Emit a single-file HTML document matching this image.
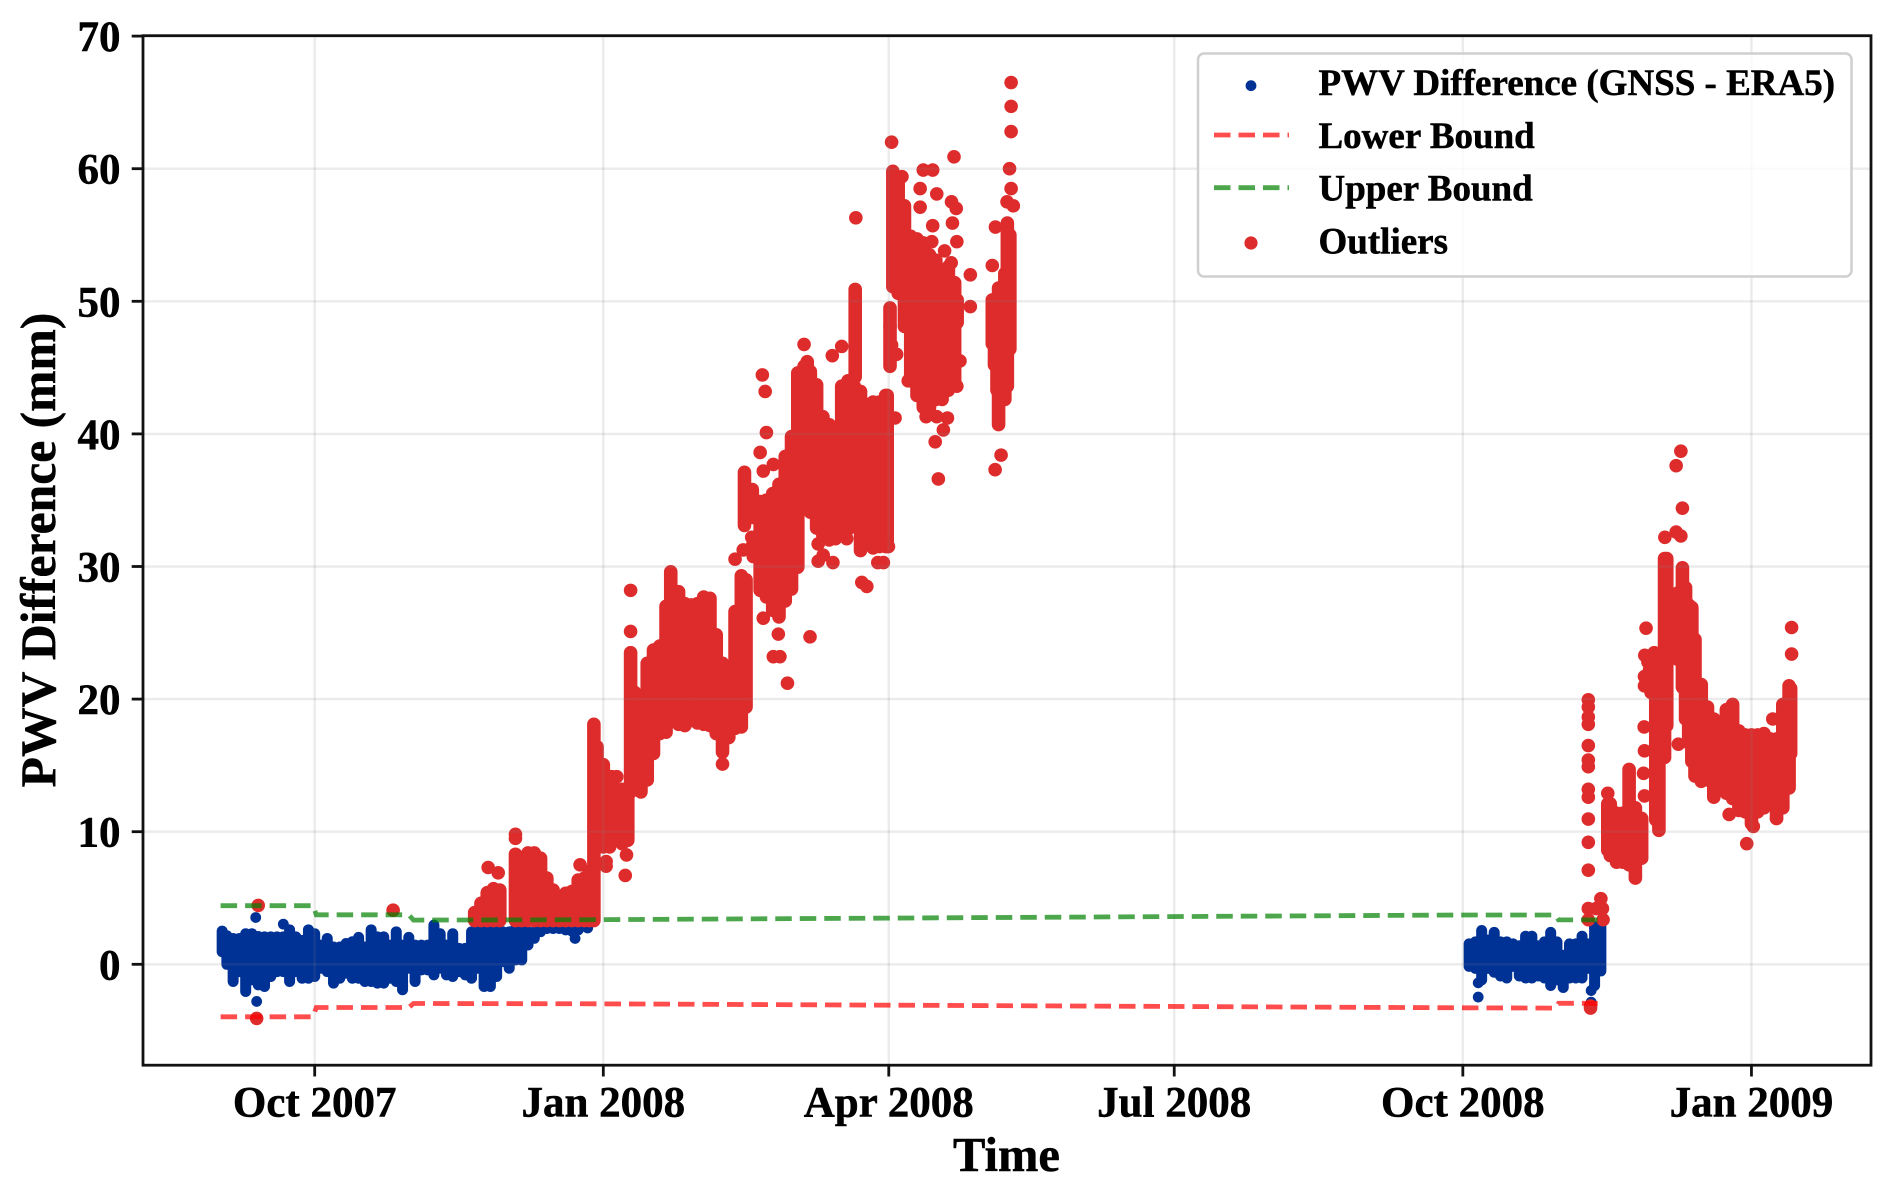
<!DOCTYPE html>
<html lang="en">
<head>
<meta charset="utf-8">
<title>PWV Difference (GNSS - ERA5)</title>
<style>
html,body{margin:0;padding:0;background:#fff;}
svg{display:block;}
text{font-family:"Liberation Serif",serif;font-weight:bold;fill:#000;stroke:#000;stroke-width:0.5px;}
</style>
</head>
<body>
<svg id="chart" xmlns="http://www.w3.org/2000/svg" width="1892" height="1191" viewBox="0 0 1892 1191">
  <rect x="0" y="0" width="1892" height="1191" fill="#fff"/>
  <g id="blue-layer"></g>
  <g id="red-layer"></g>
  <g id="grid-layer"></g>
  <g id="bound-layer"></g>
  <rect x="143" y="35.7" width="1728" height="1029.5" fill="none" stroke="#111" stroke-width="2.8"/>
  <g id="tick-layer"></g>
  <text x="1006.5" y="1171" font-size="48.5" text-anchor="middle">Time</text>
  <text transform="translate(55,550) rotate(-90)" font-size="49.6" text-anchor="middle">PWV Difference (mm)</text>
  <g>
    <rect x="1198" y="53.5" width="653.5" height="223" rx="6" ry="6" fill="#fff" fill-opacity="0.8" stroke="#cfcfcf" stroke-width="2.5"/>
    <circle cx="1251" cy="85.7" r="5.4" fill="#003296"/>
    <text x="1318.5" y="95" font-size="37">PWV Difference (GNSS - ERA5)</text>
    <line x1="1214" y1="135" x2="1289" y2="135" stroke="#ff0000" stroke-opacity="0.7" stroke-width="4.8" stroke-dasharray="16.5 8"/>
    <text x="1318.5" y="148" font-size="37">Lower Bound</text>
    <line x1="1214" y1="187.7" x2="1289" y2="187.7" stroke="#008000" stroke-opacity="0.7" stroke-width="4.8" stroke-dasharray="16.5 8"/>
    <text x="1318.5" y="200.7" font-size="37">Upper Bound</text>
    <circle cx="1251" cy="243" r="6.6" fill="#de2c2c"/>
    <text x="1318.5" y="253.5" font-size="37">Outliers</text>
  </g>
</svg>
<script>
// Time is expressed as days since 1 Oct 2007; values are PWV difference in mm.
const xTickDays = [0, 92, 183, 274, 366, 458];
const xTickLabels = ["Oct 2007", "Jan 2008", "Apr 2008", "Jul 2008", "Oct 2008", "Jan 2009"];
const yTickValues = [0, 10, 20, 30, 40, 50, 60, 70];

// Dense blue cloud, read as a top and bottom envelope per time column.
const blueDays = [
  -29.5,-28,-26,-24,-22,-20,-18,-16,-14,-12,
  -10,-8,-6,-4,-2,0,2,4,6,8,
  10,12,14,16,18,20,22,24,26,28,
  30,32,34,36,38,40,42,44,46,48,
  50,52,54,56,58,60,62,64,66,68,
  70,72,74,76,78,80,82,84,87,
  368,370,372,374,376,378,380,382,384,386,
  388,390,392,394,396,398,400,402,404,406,
  408,410
];
const blueTop = [
  2.5,2.15,1.95,1.95,2.3,2.3,2.1,2.07,2.07,2.07,
  2.07,2.6,2.07,1.8,2.6,2.3,1.45,1.95,1.3,1.3,
  1.57,1.7,2.03,1.3,2.6,2.07,2.07,1.45,2.45,1.45,
  2.03,1.45,1.45,1.45,2.95,2.3,1.45,2.3,1.2,1.2,
  2.45,2.83,2.7,2.7,2.6,2.45,2.45,2.7,2.7,2.45,
  2.45,2.7,2.7,2.7,2.7,2.7,2.7,2.7,2.8,
  1.54,1.69,2.55,1.83,2.41,1.69,1.69,1.54,1.4,2.12,
  2.12,1.4,1.69,2.41,1.69,0.68,1.54,1.54,2.12,1.54,
  2.84,2.98
];
const blueBottom = [
  0.95,0,-1.3,-0.55,-2.05,-1.17,-1.55,-1.67,-0.92,-0.55,
  -0.55,-1.3,-0.55,-1.05,-1.05,-0.92,-0.3,-0.55,-1.42,-1.05,
  -0.67,-1.05,-1.05,-1.3,-1.3,-1.42,-1.42,-1.05,-1.3,-1.92,
  -0.3,-1.3,-0.42,-0.42,-0.8,-0.3,-0.8,-0.92,-0.55,-0.8,
  -1.05,-0.3,-1.67,-1.67,-0.92,0.2,-0.3,0.33,0.33,1.46,
  1.96,2.46,2.7,2.7,2.7,2.6,2.5,2.6,2.75,
  -0.16,-0.31,-1.17,-0.31,-0.6,-0.88,-1.03,-0.16,-0.88,-1.03,
  -1.03,-0.88,-1.03,-1.6,-1.17,-1.75,-1.03,-1.03,-1.03,-0.31,
  -1.6,-0.5
];
// Isolated blue points.
const blueDotDays = [-18.8,-18.5,-10,83,370.9,370.9,406.9,406.9];
const blueDotValues = [3.53,-2.8,3.03,1.95,-2.47,-1.4,-1.98,-2.85];

// Dense red cloud, read as a high and low envelope per time column.
const redDays = [
  51,53,55,57,59,64,66,68,70,72,
  74,76,78,80,82,84,86,87.5,89,90,
  92,94,96,98,99.8,100.7,102,104,106,108,
  110,112,113.5,116,118,120,122,124,126,128,
  130,132,134,136,137.5,137,139.5,142,144,146,
  148,150,152,154,156,157,158,160,162,164,
  166,168,170,172,174,176,178,180,182,182.5,
  172.3,183.4,184.3,186,188,190,192,194,196,198,
  200,202,204,204.8,216,216.7,217.5,218,219,220,
  220.8,221.6,
  412.2,413,415,417,419,421,423,427.5,428.5,430.3,
  431,434.5,436,437,438,439,440,442,444,446,
  448,450,452,454,456,458,460,462,464,466,
  468,470,470.5
];
const redHigh = [
  3.9,4.6,5.4,5.7,5.6,8.3,7.8,8.4,8.4,8.0,
  6.5,5.6,5.0,5.35,5.5,6.35,6.5,7.0,18.1,16.4,
  15.05,13.2,13.2,13.2,13.2,23.5,20.5,19.2,22.7,23.7,
  24,27,29.6,28.1,27.2,27.1,27.2,27.7,27.6,24.85,
  22.7,22,26.6,29.3,29,37.1,35.8,34.9,35,35.5,
  36.2,38.3,39.8,44.6,45.1,45.45,44.7,43.7,41.3,40.7,
  39.6,43.6,44,43.6,43.2,42.2,42.4,42.4,42.9,42.9,
  50.9,49.5,59.8,59.3,57.2,54.9,54.7,54.4,53.5,53.1,
  51.9,52.6,51.4,50.1,50.1,50.1,50.1,51,51,52.1,
  55.9,55,
  12.1,12.1,11.4,11.4,14.7,11.8,11,23,23.3,30.6,
  30.6,28,29.9,28.4,27.1,26.9,24.5,21.1,19.4,18.5,
  17.1,19.2,19.6,17.6,17.3,17.3,17.3,17.4,17,17,
  19.6,21,20.8
];
const redLow = [
  3.3,3.3,3.3,3.3,3.3,3.3,3.3,3.3,3.3,3.3,
  3.3,3.3,3.3,3.3,3.3,3.3,3.3,3.3,3.3,9.35,
  8.85,8.85,9.35,9.1,9.35,13,13.6,13,13.9,15.9,
  17.4,17.5,20.15,18.1,18,18.4,18.2,18.1,18,17.4,
  16,17.1,17.8,17.9,19.4,33.1,33.7,28.2,27.7,26.7,
  26.2,27.4,28.3,29.95,35,35,34.1,32.9,32.3,32,
  32.1,32.6,32.8,34,31.2,31.9,31.4,31.5,31.5,31.8,
  44.3,45.1,51.1,50.6,48.1,44,42.9,42,42,42.6,
  42.6,43.3,43.8,48.4,46.8,45.2,43.3,40.7,42.8,42.6,
  43.6,46.4,
  8.6,8.2,7.7,7.7,7.5,6.5,8,10.9,10.1,15.6,
  18,23,20.9,18.5,16.7,15.3,14.2,13.8,13.9,12.6,
  13.5,12.9,12.5,11.6,11.5,10.6,11.5,11.8,12.3,11,
  11.8,13.3,15.9
];
// Isolated red points.
const redDotDays = [
  -18,-18.5,25,55.3,58.5,64,64,84.6,92.9,92.9,
  99.4,99,100.7,100.7,94.7,96.3,130,147.8,146.2,148.3,
  150.7,157.9,143,160.5,160.5,162.1,165.2,174.4,176,179.5,
  181.3,182.9,169.6,134,136.6,139.3,139.6,139.8,142.7,143.6,
  144,142,143,146.2,156,165,168,172.5,183.9,187.2,
  193,193,194,197,203.8,198.3,203,204.5,203.3,197,
  204.7,196.7,200.8,202.9,209,209,205.7,204.7,194.9,198.3,
  201.7,200.4,197.8,198.8,189.2,183.4,183.9,185.5,185,222,
  222,222,221.5,222,220.7,222.7,217,216,218.8,216.9,
  406,406,406,406,406,406,406,406,406,406,
  406,406,406,406,410,410.5,410.7,408.5,406.7,406.7,
  424.4,424,425,427,423.9,423.9,423.8,423.9,423.6,423.9,
  434.7,435.5,434,436,430.4,434,435.5,450.9,456.5,464.8,
  470.8,470.8,458.6,466,412.2,425.5,426.5,426
];
const redDotValues = [
  4.44,-4.08,4.08,7.3,6.9,9.8,9.5,7.5,7.4,7.75,
  8.25,6.7,28.2,25.1,14.15,14.15,15.1,24.9,23.2,23.2,
  21.2,24.7,26.1,31.7,30.4,30.85,30.3,28.8,28.5,30.3,
  30.3,31.5,32.1,30.55,31.25,32.2,31.6,30.75,44.45,43.2,
  40.1,38.6,37.2,37.7,46.75,45.9,46.6,56.3,62,59.4,
  58.5,57.1,59.9,59.9,60.9,58.1,57.5,57,55.9,55.7,
  54.5,54.5,53.8,52.9,52,49.6,45.5,43.6,41.3,41.3,
  41.2,40.3,39.4,36.6,44,48.1,46.7,46,41.2,66.5,
  64.7,62.8,60,58.5,57.5,57.2,55.6,52.7,38.4,37.3,
  19.95,19.4,18.65,18.1,16.5,15.4,14.9,13.2,12.6,10.95,
  9.2,7.1,4.2,3.36,4.95,4.2,3.36,4.2,-3.15,-3.3,
  25.35,23.3,22.8,23.5,21.7,21,17.9,16.1,14.4,12.7,
  16.6,38.7,37.6,34.4,32.2,32.6,32.3,11.3,9.1,18.5,
  25.4,23.4,10.4,11,12.9,22.2,21.5,20.5
];

// Step-like detection bounds.
const boundDays = [-30,-0.5,0.5,30,31.5,89,366,395.5,396.5,409];
const upperBound = [4.42,4.42,3.73,3.73,3.33,3.36,3.72,3.72,3.35,3.35];
const lowerBound = [-3.96,-3.96,-3.26,-3.26,-2.96,-2.98,-3.28,-3.3,-2.94,-2.94];

const SVG_NS = "http://www.w3.org/2000/svg";
function xScale(day) { return 314.7 + 3.137 * day; }
function yScale(value) { return 964.3 - 13.26 * value; }
function make(tag, parent) {
  const el = document.createElementNS(SVG_NS, tag);
  parent.appendChild(el);
  return el;
}
function setAll(el, attrs) {
  for (const key in attrs) el.setAttribute(key, attrs[key]);
}

const blueLayer = document.getElementById("blue-layer");
const redLayer = document.getElementById("red-layer");
const gridLayer = document.getElementById("grid-layer");
const boundLayer = document.getElementById("bound-layer");
const tickLayer = document.getElementById("tick-layer");

blueDays.forEach(function (day, i) {
  const el = make("line", blueLayer);
  
  
  setAll(el, {x1: xScale(day), x2: xScale(day), y1: yScale(blueBottom[i]), y2: yScale(blueTop[i]), stroke: "#003296", "stroke-width": 11, "stroke-linecap": "round"});
});
blueDotDays.forEach(function (day, i) {
  const el = make("circle", blueLayer);
  
  
  setAll(el, {cx: xScale(day), cy: yScale(blueDotValues[i]), r: 5.4, fill: "#003296"});
});
redDays.forEach(function (day, i) {
  const el = make("line", redLayer);
  
  
  setAll(el, {x1: xScale(day), x2: xScale(day), y1: yScale(redLow[i]), y2: yScale(redHigh[i]), stroke: "#de2c2c", "stroke-width": 13.6, "stroke-linecap": "round"});
});
redDotDays.forEach(function (day, i) {
  const el = make("circle", redLayer);
  
  
  setAll(el, {cx: xScale(day), cy: yScale(redDotValues[i]), r: 6.8, fill: "#de2c2c"});
});

xTickDays.forEach(function (day, i) {
  const x = xScale(day);
  const grid = make("line", gridLayer);
  
  
  setAll(grid, {x1: x, x2: x, y1: 35.7, y2: 1065.2, stroke: "#808080", "stroke-opacity": 0.16, "stroke-width": 2.4});
  const tick = make("line", tickLayer);
  
  
  setAll(tick, {x1: x, x2: x, y1: 1065.2, y2: 1076.5, stroke: "#111", "stroke-width": 2.8});
  const label = make("text", tickLayer);
  
  
  setAll(label, {x: x, y: 1116.7, "text-anchor": "middle", "font-size": 43});
  label.textContent = xTickLabels[i];
});
yTickValues.forEach(function (value) {
  const y = yScale(value);
  const grid = make("line", gridLayer);
  
  
  setAll(grid, {x1: 143, x2: 1871, y1: y, y2: y, stroke: "#808080", "stroke-opacity": 0.16, "stroke-width": 2.4});
  const tick = make("line", tickLayer);
  
  
  setAll(tick, {x1: 131.7, x2: 143, y1: y, y2: y, stroke: "#111", "stroke-width": 2.8});
  const label = make("text", tickLayer);
  
  
  setAll(label, {x: 120.5, y: y + 15, "text-anchor": "end", "font-size": 43});
  label.textContent = String(value);
});

function boundPath(values) {
  return values.map(function (v, i) {
    return (i ? "L" : "M") + xScale(boundDays[i]).toFixed(1) + " " + yScale(v).toFixed(1);
  }).join(" ");
}
const upperLine = make("path", boundLayer);


setAll(upperLine, {d: boundPath(upperBound), fill: "none", stroke: "#008000", "stroke-opacity": 0.7, "stroke-width": 4.8, "stroke-dasharray": "16.5 8"});
const lowerLine = make("path", boundLayer);


setAll(lowerLine, {d: boundPath(lowerBound), fill: "none", stroke: "#ff0000", "stroke-opacity": 0.7, "stroke-width": 4.8, "stroke-dasharray": "16.5 8"});
</script>
</body>
</html>
